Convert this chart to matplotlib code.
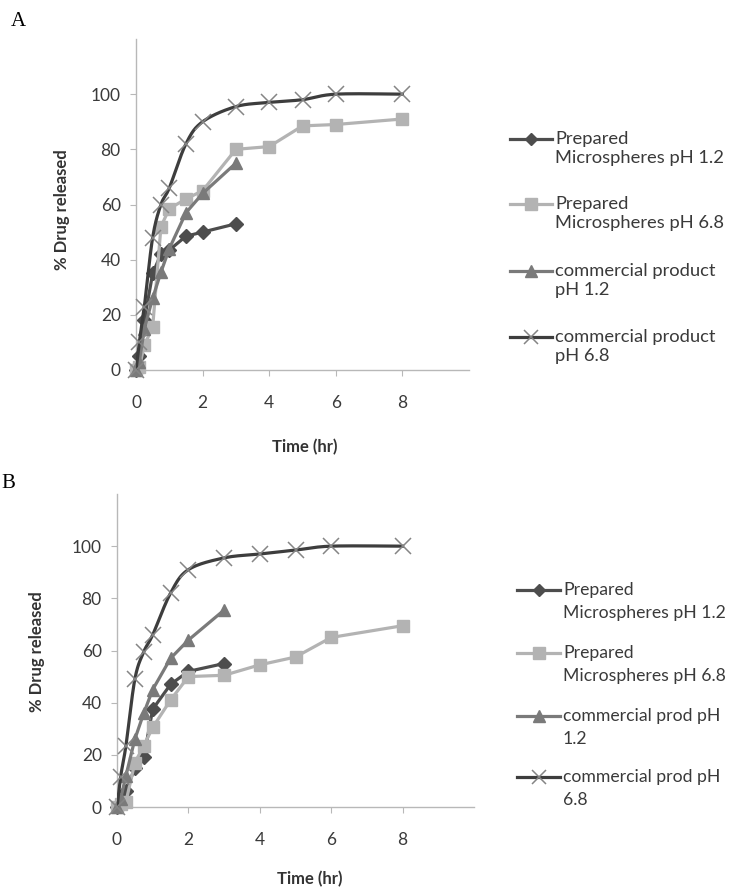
import matplotlib
matplotlib.use('Agg')
import matplotlib.pyplot as plt
from matplotlib.lines import Line2D
import numpy as np

plt.rcParams['font.family'] = ['Lato', 'DejaVu Sans']

# tiempos de muestreo (hr)
t_A = [0, 0.1, 0.25, 0.5, 0.75, 1, 1.5, 2, 3, 4, 5, 6, 8]
t_short = [0, 0.1, 0.25, 0.5, 0.75, 1, 1.5, 2, 3]

# Figura A
prep12_A = [0, 5, 18, 35, 42, 43.5, 48.5, 50, 53]
prep68_A = [0, 1, 9, 15.5, 52, 58.5, 62, 65, 80, 81, 88.5, 89, 91]
comm12_A = [0, 3, 15, 26, 35.5, 44, 57, 64, 75]
comm68_A = [0, 10, 23, 48, 60, 66, 82, 90, 95.5, 97, 98, 100, 100]

# Figura B
prep12_B = [0, 1, 6, 15, 19, 37.5, 47, 52, 55]
prep68_B = [0, 1, 2, 17, 23.5, 30.5, 41, 50, 50.5, 54.5, 57.5, 65, 69.5]
comm12_B = [0, 3, 12, 26, 36, 45, 57, 64, 75.5]
comm68_B = [0, 11.5, 23.5, 49, 59.5, 66, 82, 91, 95.5, 97, 98.5, 100, 100]

labels_A = ['Prepared\nMicrospheres pH 1.2', 'Prepared\nMicrospheres pH 6.8',
            'commercial product\npH 1.2', 'commercial product\npH 6.8']
labels_B = ['Prepared\nMicrospheres pH 1.2', 'Prepared\nMicrospheres pH 6.8',
            'commercial prod pH\n1.2', 'commercial prod pH\n6.8']

W, H = 738, 889

# estilos de cada serie
estilos = [
    dict(color='#4d4d4d', marker='D', markersize=7, mfc='#4d4d4d', mec='#4d4d4d', mew=1),
    dict(color='#b3b3b3', marker='s', markersize=9, mfc='#b3b3b3', mec='#b3b3b3', mew=1),
    dict(color='#7a7a7a', marker='^', markersize=9, mfc='#7a7a7a', mec='#7a7a7a', mew=1),
    dict(color='#3d3d3d', marker='x', markersize=11, mfc='#858585', mec='#858585', mew=1.1),
]


def suavizar(ax, x, y, n=24):
    # linea suavizada tipo Excel (Catmull-Rom en coordenadas de pantalla)
    p = ax.transData.transform(np.column_stack([x, y]))
    pp = np.vstack([p[0], p, p[-1]])
    out = [p[0]]
    for i in range(1, len(pp) - 2):
        p0, p1, p2, p3 = pp[i - 1], pp[i], pp[i + 1], pp[i + 2]
        c1 = p1 + (p2 - p0) / 6.0
        c2 = p2 - (p3 - p1) / 6.0
        s = np.linspace(0, 1, n)[1:, None]
        seg = ((1 - s) ** 3) * p1 + 3 * ((1 - s) ** 2) * s * c1 + 3 * (1 - s) * s ** 2 * c2 + s ** 3 * p2
        out.extend(seg)
    out = ax.transData.inverted().transform(np.array(out))
    return out[:, 0], out[:, 1]


def px(x, y):
    return x / W, 1 - y / H


def panel(rect, series, ylab_x, xlab_y):
    ax = fig.add_axes(rect)
    ax.set_xlim(0, 10)
    ax.set_ylim(0, 120)
    ax.set_xticks([0, 2, 4, 6, 8])
    ax.set_yticks([0, 20, 40, 60, 80, 100])
    for s in ['top', 'right']:
        ax.spines[s].set_visible(False)
    for s in ['left', 'bottom']:
        ax.spines[s].set_color('#b8b8b8')
        ax.spines[s].set_linewidth(1.0)
    ax.tick_params(axis='both', colors='#b8b8b8', labelcolor='#3a3a3a', labelsize=12.5, length=4)
    ax.tick_params(axis='x', pad=14)
    ax.tick_params(axis='y', pad=7)
    for k, (t, v) in enumerate(series):
        st = estilos[k]
        if k == 3:
            xs, ys = suavizar(ax, t, v)
            ax.plot(xs, ys, '-', color=st['color'], linewidth=2.3, zorder=3 + k)
            ax.plot(t, v, linestyle='none', marker=st['marker'], markersize=st['markersize'],
                    markeredgecolor=st['mec'], markeredgewidth=st['mew'], zorder=3 + k, clip_on=False)
        else:
            ax.plot(t, v, '-', color=st['color'], linewidth=2.3, marker=st['marker'],
                    markersize=st['markersize'], markerfacecolor=st['mfc'],
                    markeredgecolor=st['mec'], markeredgewidth=st['mew'], zorder=3 + k, clip_on=False)
    fig.text(*px(*ylab_x), '% Drug released', rotation=90, ha='center', va='center',
             fontsize=12, fontweight='bold', color='#333333')
    fig.text(*px(*xlab_y), 'Time (hr)', ha='center', va='center',
             fontsize=12, fontweight='bold', color='#333333')
    return ax


def leyenda(labels, x0, x1, xt, ys, dy, fs):
    for k, lab in enumerate(labels):
        st = estilos[k]
        y = ys[k]
        fx0, fy = px(x0, y)
        fx1, _ = px(x1, y)
        fig.add_artist(Line2D([fx0, fx1], [fy, fy], color=st['color'], linewidth=2.3))
        fig.add_artist(Line2D([(fx0 + fx1) / 2], [fy], linestyle='none', marker=st['marker'],
                              markersize=st['markersize'] * 0.9, markerfacecolor=st['mfc'],
                              markeredgecolor=st['mec'], markeredgewidth=st['mew']))
        for j, linea in enumerate(lab.split('\n')):
            fig.text(*px(xt, y + j * dy), linea, ha='left', va='center',
                     fontsize=fs, color='#3a3a3a')


fig = plt.figure(figsize=(W / 100, H / 100), dpi=100)

axA = panel([136 / W, 1 - 370 / H, 333 / W, 331 / H],
            [(t_short, prep12_A), (t_A, prep68_A), (t_short, comm12_A), (t_A, comm68_A)],
            (62, 210), (305, 447))
leyenda(labels_A, 510, 552, 555, [139, 204, 271, 337], 19, 13.2)

axB = panel([117 / W, 1 - 807 / H, 357 / W, 313 / H],
            [(t_short, prep12_B), (t_A, prep68_B), (t_short, comm12_B), (t_A, comm68_B)],
            (37, 652), (310, 879))
leyenda(labels_B, 517, 560, 563, [590, 653, 716, 777], 23, 12.7)

fig.text(*px(11, 22), 'A', family='Liberation Serif', fontsize=15, ha='left', va='center', color='black')
fig.text(*px(1, 483), 'B', family='Liberation Serif', fontsize=15, ha='left', va='center', color='black')

fig.savefig('out.png', dpi=100)
